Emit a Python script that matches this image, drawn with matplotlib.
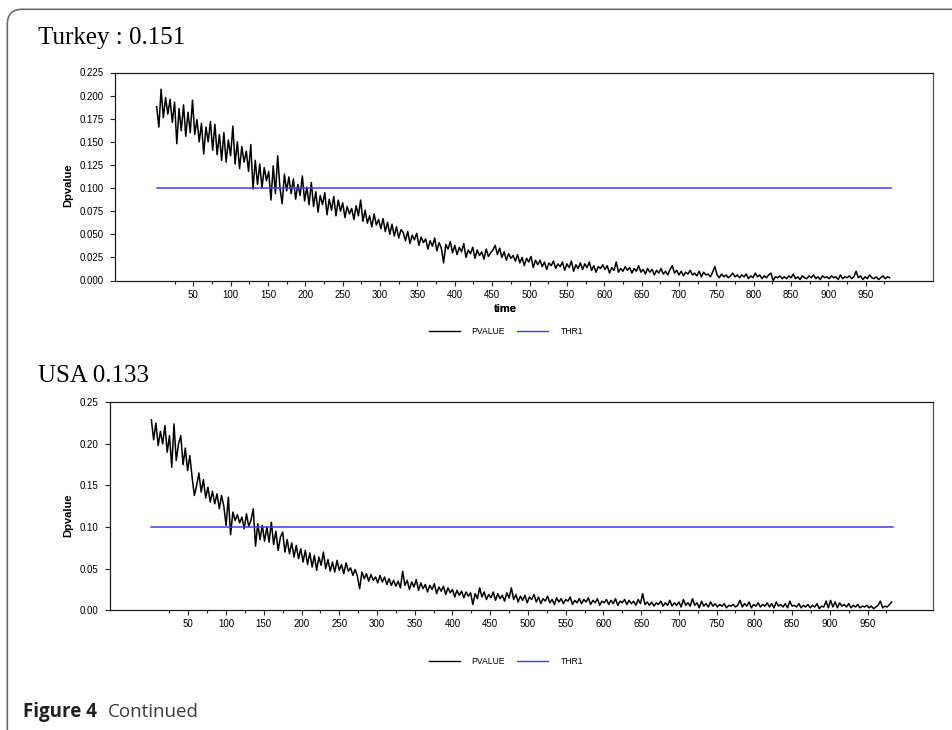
import numpy as np
import matplotlib
matplotlib.use("Agg")
import matplotlib.pyplot as plt
from matplotlib.patches import FancyBboxPatch
from matplotlib.ticker import FormatStrFormatter

# ---------------- data (time step 3) ----------------
turkey_title = "Turkey : 0.151"
usa_title = "USA 0.133"
series_labels = ["PVALUE", "THR1"]
thr1 = 0.10
thr_span = [1, 984]

turkey_pvalue = [
    0.188, 0.166, 0.207, 0.176, 0.198, 0.180, 0.196, 0.171, 0.193, 0.148,
    0.186, 0.162, 0.190, 0.156, 0.182, 0.160, 0.195, 0.158, 0.174, 0.150,
    0.170, 0.137, 0.166, 0.150, 0.172, 0.141, 0.169, 0.136, 0.158, 0.130,
    0.160, 0.128, 0.152, 0.135, 0.167, 0.126, 0.150, 0.121, 0.145, 0.128,
    0.140, 0.118, 0.147, 0.099, 0.130, 0.104, 0.126, 0.100, 0.122, 0.108,
    0.118, 0.087, 0.124, 0.094, 0.135, 0.100, 0.083, 0.115, 0.097, 0.112,
    0.094, 0.110, 0.088, 0.104, 0.092, 0.113, 0.086, 0.101, 0.082, 0.106,
    0.080, 0.096, 0.074, 0.092, 0.082, 0.095, 0.071, 0.088, 0.076, 0.091,
    0.070, 0.087, 0.075, 0.084, 0.068, 0.080, 0.072, 0.078, 0.066, 0.081,
    0.070, 0.087, 0.064, 0.076, 0.062, 0.070, 0.058, 0.072, 0.060, 0.066,
    0.056, 0.067, 0.053, 0.063, 0.050, 0.061, 0.048, 0.058, 0.046, 0.055,
    0.052, 0.043, 0.053, 0.040, 0.049, 0.044, 0.051, 0.038, 0.047, 0.041,
    0.045, 0.034, 0.043, 0.037, 0.046, 0.032, 0.041, 0.035, 0.019, 0.039,
    0.034, 0.042, 0.030, 0.038, 0.028, 0.036, 0.031, 0.040, 0.025, 0.033,
    0.029, 0.036, 0.024, 0.033, 0.027, 0.031, 0.023, 0.034, 0.026, 0.030,
    0.033, 0.038, 0.028, 0.035, 0.025, 0.031, 0.022, 0.029, 0.024, 0.027,
    0.021, 0.028, 0.019, 0.025, 0.016, 0.024, 0.020, 0.026, 0.014, 0.022,
    0.017, 0.022, 0.015, 0.020, 0.012, 0.019, 0.016, 0.021, 0.013, 0.018,
    0.015, 0.020, 0.011, 0.018, 0.014, 0.021, 0.010, 0.017, 0.013, 0.019,
    0.012, 0.018, 0.014, 0.020, 0.011, 0.016, 0.009, 0.015, 0.013, 0.017,
    0.012, 0.016, 0.008, 0.014, 0.011, 0.020, 0.009, 0.013, 0.010, 0.015,
    0.011, 0.014, 0.008, 0.013, 0.010, 0.016, 0.009, 0.012, 0.007, 0.013,
    0.009, 0.012, 0.006, 0.011, 0.008, 0.013, 0.007, 0.010, 0.006, 0.012,
    0.016, 0.008, 0.011, 0.006, 0.010, 0.005, 0.009, 0.007, 0.011, 0.006,
    0.008, 0.005, 0.010, 0.004, 0.009, 0.006, 0.007, 0.004, 0.009, 0.015,
    0.006, 0.003, 0.007, 0.004, 0.006, 0.003, 0.005, 0.008, 0.004, 0.006,
    0.003, 0.006, 0.004, 0.007, 0.002, 0.005, 0.003, 0.008, 0.004, 0.006,
    0.002, 0.005, 0.003, 0.006, 0.008, 0.000, 0.004, 0.003, 0.005, 0.002,
    0.004, 0.002, 0.005, 0.003, 0.007, 0.002, 0.004, 0.001, 0.005, 0.003,
    0.002, 0.005, 0.003, 0.006, 0.002, 0.004, 0.001, 0.005, 0.003, 0.004,
    0.002, 0.005, 0.003, 0.004, 0.001, 0.006, 0.002, 0.004, 0.003, 0.005,
    0.002, 0.004, 0.010, 0.003, 0.005, 0.001, 0.004, 0.002, 0.006, 0.003,
    0.002, 0.004, 0.001, 0.003, 0.005, 0.002, 0.004, 0.003,
]

usa_pvalue = [
    0.229, 0.205, 0.225, 0.198, 0.215, 0.200, 0.222, 0.190, 0.210, 0.172,
    0.224, 0.180, 0.200, 0.210, 0.175, 0.195, 0.168, 0.186, 0.160, 0.138,
    0.150, 0.165, 0.142, 0.157, 0.135, 0.148, 0.130, 0.143, 0.128, 0.140,
    0.122, 0.138, 0.125, 0.102, 0.136, 0.091, 0.118, 0.108, 0.115, 0.105,
    0.112, 0.098, 0.116, 0.101, 0.108, 0.122, 0.077, 0.104, 0.085, 0.102,
    0.083, 0.100, 0.082, 0.106, 0.079, 0.095, 0.072, 0.088, 0.094, 0.070,
    0.085, 0.068, 0.081, 0.064, 0.078, 0.062, 0.074, 0.058, 0.072, 0.055,
    0.069, 0.052, 0.066, 0.048, 0.064, 0.054, 0.070, 0.050, 0.061, 0.047,
    0.058, 0.046, 0.060, 0.048, 0.055, 0.044, 0.057, 0.047, 0.051, 0.042,
    0.049, 0.041, 0.026, 0.046, 0.038, 0.044, 0.035, 0.043, 0.036, 0.040,
    0.033, 0.042, 0.034, 0.040, 0.031, 0.038, 0.030, 0.036, 0.029, 0.035,
    0.027, 0.047, 0.030, 0.036, 0.025, 0.034, 0.028, 0.037, 0.024, 0.033,
    0.026, 0.031, 0.022, 0.030, 0.025, 0.032, 0.020, 0.028, 0.023, 0.029,
    0.019, 0.027, 0.021, 0.025, 0.016, 0.024, 0.018, 0.023, 0.015, 0.022,
    0.017, 0.021, 0.007, 0.020, 0.014, 0.027, 0.016, 0.022, 0.013, 0.019,
    0.015, 0.022, 0.012, 0.020, 0.014, 0.018, 0.011, 0.021, 0.015, 0.027,
    0.013, 0.019, 0.010, 0.017, 0.012, 0.018, 0.009, 0.016, 0.013, 0.019,
    0.010, 0.016, 0.008, 0.014, 0.011, 0.017, 0.009, 0.013, 0.007, 0.015,
    0.010, 0.014, 0.008, 0.013, 0.011, 0.016, 0.007, 0.012, 0.009, 0.014,
    0.008, 0.013, 0.010, 0.015, 0.007, 0.012, 0.009, 0.014, 0.006, 0.011,
    0.009, 0.013, 0.007, 0.012, 0.008, 0.014, 0.006, 0.011, 0.009, 0.013,
    0.007, 0.012, 0.008, 0.011, 0.006, 0.013, 0.008, 0.020, 0.007, 0.010,
    0.006, 0.010, 0.005, 0.009, 0.007, 0.011, 0.005, 0.009, 0.006, 0.012,
    0.005, 0.009, 0.006, 0.010, 0.004, 0.013, 0.006, 0.009, 0.005, 0.014,
    0.006, 0.009, 0.003, 0.011, 0.005, 0.008, 0.004, 0.010, 0.005, 0.008,
    0.004, 0.007, 0.005, 0.008, 0.003, 0.006, 0.005, 0.007, 0.004, 0.006,
    0.012, 0.004, 0.008, 0.005, 0.010, 0.003, 0.007, 0.005, 0.009, 0.004,
    0.007, 0.005, 0.009, 0.004, 0.008, 0.003, 0.010, 0.005, 0.007, 0.004,
    0.008, 0.003, 0.011, 0.005, 0.006, 0.004, 0.008, 0.003, 0.006, 0.004,
    0.007, 0.003, 0.006, 0.004, 0.008, 0.002, 0.005, 0.004, 0.011, 0.003,
    0.012, 0.004, 0.010, 0.003, 0.009, 0.005, 0.007, 0.004, 0.008, 0.003,
    0.006, 0.004, 0.007, 0.003, 0.005, 0.004, 0.006, 0.003, 0.005, 0.002,
    0.004, 0.006, 0.011, 0.003, 0.005, 0.004, 0.007, 0.010,
]

x_major = list(range(50, 1000, 50))
x_minor = list(range(25, 1000, 50))

# ---------------- figure ----------------
W, H = 952, 730
fig = plt.figure(figsize=(W / 100, H / 100), dpi=100)
fig.patch.set_facecolor("white")

SANS = ["Liberation Sans", "DejaVu Sans"]
SERIF = ["Liberation Serif", "DejaVu Serif"]

# rounded outer frame (extends past right/bottom edges)
frame = FancyBboxPatch((7.3 / 100, -0.5), 10.0, (H - 9.3) / 100 + 0.5,
                       boxstyle="round,pad=0,rounding_size=0.15",
                       transform=fig.dpi_scale_trans, facecolor="none",
                       edgecolor="#6b6b6b", linewidth=1.2, clip_on=False)
fig.patches.append(frame)


def px_axes(l, t, r, b):
    return [l / W, 1 - b / H, (r - l) / W, (b - t) / H]


panels = [
    dict(rect=px_axes(115, 72.5, 932.7, 280.5), xlim=(-54.7, 1039.5),
         ylim=(0, 0.225), ystep=0.025, fmt="%.3f", data=turkey_pvalue,
         title=turkey_title, title_y=44.0, legend_y=331.7),
    dict(rect=px_axes(110, 402.3, 932.7, 610.3), xlim=(-53.8, 1036.3),
         ylim=(0, 0.25), ystep=0.05, fmt="%.2f", data=usa_pvalue,
         title=usa_title, title_y=382.3, legend_y=661.7),
]

for p in panels:
    ax = fig.add_axes(p["rect"])
    vals = np.array(p["data"])
    t = 1 + 3 * np.arange(len(vals))
    ax.plot(t, vals, color="black", lw=1.1, label=series_labels[0])
    ax.plot(thr_span, [thr1, thr1], color="#3c3cff", lw=1.1,
            label=series_labels[1])
    ax.set_xlim(*p["xlim"])
    ax.set_ylim(*p["ylim"])
    ax.set_xticks(x_major)
    ax.set_xticks(x_minor, minor=True)
    ax.set_yticks(np.arange(p["ylim"][0], p["ylim"][1] + 1e-9, p["ystep"]))
    ax.yaxis.set_major_formatter(FormatStrFormatter(p["fmt"]))
    ax.tick_params(axis="both", which="major", direction="out", length=3.6,
                   width=0.8, labelsize=7, color="#222222")
    ax.tick_params(axis="x", which="major", pad=3)
    ax.tick_params(axis="y", which="major", pad=4.5)
    ax.tick_params(axis="x", which="minor", direction="out", length=2.2,
                   width=0.8, color="#222222")
    for lab in ax.get_xticklabels() + ax.get_yticklabels():
        lab.set_fontfamily(SANS)
    for s in ax.spines.values():
        s.set_linewidth(0.9)
        s.set_color("#1a1a1a")
    ax.spines["right"].set_color("#555555")
    pos = ax.get_position()
    axw = pos.width * W
    axh = pos.height * H
    axl = pos.x0 * W
    axt = (1 - pos.y1) * H
    ax.set_ylabel("Dpvalue", fontsize=8, fontweight="bold", family=SANS)
    ax.yaxis.set_label_coords((73.5 - axl) / axw, 1 - (185 - 72.5) / 208)
    ax.set_xlabel("time", fontsize=8, fontweight="bold", family=SANS)
    ax.xaxis.set_label_coords((505.7 - axl) / axw, -(304.5 - (axt + axh)) / axh)
    leg = ax.legend(loc="center", ncol=2, frameon=False,
                    bbox_to_anchor=(505.7 / W, 1 - p["legend_y"] / H),
                    bbox_transform=fig.transFigure,
                    prop={"family": SANS, "size": 6.2},
                    handlelength=3.6, handletextpad=1.4, columnspacing=1.4,
                    borderpad=0)
    for ln in leg.get_lines():
        ln.set_linewidth(1.0)
    fig.text(38.3 / W, 1 - p["title_y"] / H, p["title"], family=SERIF,
             fontsize=18, ha="left", va="baseline", color="black")

fig.text(23.3 / W, 1 - 717 / H, "Figure 4", family=["Open Sans", "DejaVu Sans"],
         fontsize=13.5, fontweight="bold", ha="left", va="baseline",
         color="#231f20")
fig.text(108 / W, 1 - 717 / H, "Continued", family=["Open Sans", "DejaVu Sans"],
         fontsize=13.5, ha="left", va="baseline", color="#3a3a3a")

fig.savefig("out.png", dpi=100)
